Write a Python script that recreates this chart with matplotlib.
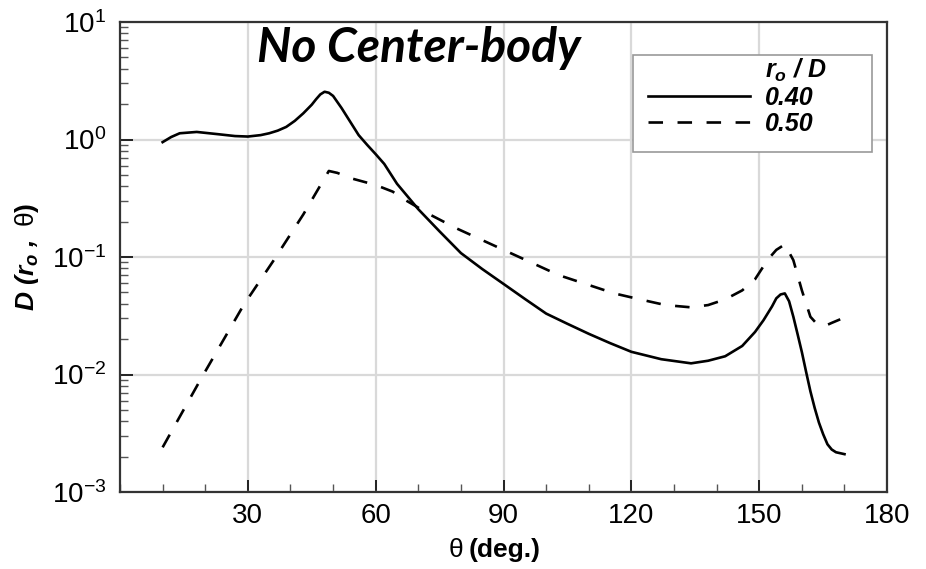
import matplotlib
matplotlib.use('Agg')
import matplotlib.pyplot as plt
from matplotlib.ticker import MultipleLocator, LogLocator, NullFormatter
from matplotlib.lines import Line2D
from matplotlib.patches import Rectangle

plt.rcParams['font.family'] = ['Liberation Sans', 'DejaVu Sans']
plt.rcParams['mathtext.fontset'] = 'custom'
plt.rcParams['mathtext.rm'] = 'Liberation Sans'
plt.rcParams['mathtext.it'] = 'Liberation Sans:italic'
plt.rcParams['mathtext.bf'] = 'Liberation Sans:bold'
plt.rcParams['mathtext.bfit'] = 'Liberation Sans:bold:italic'

# r_o/D = 0.40 (solid)
theta_40 = [10, 12, 14, 18, 23, 27, 30, 33, 35, 37, 39, 41, 43, 45, 46, 47, 48, 49, 50,
            52, 54, 56, 58, 60, 62, 65, 70, 75, 80, 85, 90, 95, 100, 105, 110, 115, 120,
            127, 134, 138, 142, 146, 149, 151, 153, 154, 155, 156, 157, 158, 159, 160,
            161, 162, 163, 164, 165, 166, 167, 168, 170]
d_40 = [0.95, 1.05, 1.13, 1.16, 1.11, 1.07, 1.06, 1.09, 1.13, 1.19, 1.28, 1.44, 1.67, 1.98,
        2.2, 2.42, 2.55, 2.5, 2.35, 1.85, 1.42, 1.09, 0.9, 0.75, 0.62, 0.42, 0.255, 0.165,
        0.108, 0.079, 0.059, 0.044, 0.033, 0.027, 0.0222, 0.0185, 0.0156, 0.0135, 0.01245,
        0.0131, 0.0143, 0.0175, 0.023, 0.029, 0.038, 0.0445, 0.048, 0.049, 0.042, 0.031,
        0.022, 0.0155, 0.0105, 0.0072, 0.0052, 0.0039, 0.0031, 0.00255, 0.0023, 0.00218, 0.0021]

# r_o/D = 0.50 (dashed)
theta_50 = [10, 19, 29, 36, 43, 49, 51, 54, 60, 64, 66, 73, 79, 90, 103, 116, 122, 128,
            134, 138, 142, 146, 149, 152, 154, 156, 158, 160, 162, 163.5, 165.5, 167, 169]
d_50 = [0.0024, 0.0092, 0.039, 0.093, 0.23, 0.54, 0.52, 0.47, 0.41, 0.36, 0.32, 0.227,
        0.175, 0.115, 0.070, 0.049, 0.0436, 0.039, 0.0373, 0.039, 0.0436, 0.052, 0.0646,
        0.095, 0.115, 0.128, 0.094, 0.052, 0.031, 0.027, 0.026, 0.0275, 0.0295]

x_ticks = [30, 60, 90, 120, 150, 180]
legend_title = r'$\mathbfit{r_o\ /\ D}$'
legend_labels = ['0.40', '0.50']

fig = plt.figure(figsize=(9.26, 5.69), dpi=100)
ax = fig.add_axes([0.1296, 0.1353, 0.8284, 0.826])

ax.plot(theta_40, d_40, color='black', lw=1.9, linestyle='-')
ax.plot(theta_50, d_50, color='black', lw=1.9, linestyle=(0, (5.5, 5.5)))

ax.set_yscale('log')
ax.set_xlim(0, 180)
ax.set_ylim(1e-3, 1e1)
ax.set_xticks(x_ticks)
ax.xaxis.set_minor_locator(MultipleLocator(10))
ax.yaxis.set_major_locator(LogLocator(base=10, numticks=10))
ax.yaxis.set_minor_locator(LogLocator(base=10, subs=range(2, 10), numticks=20))
ax.yaxis.set_minor_formatter(NullFormatter())

ax.grid(True, which='major', color='#d9d9d9', lw=1.6)
ax.set_axisbelow(True)
ax.tick_params(which='major', direction='in', length=9, width=1.4, labelsize=20,
               color='#222222', top=False, right=False)
ax.tick_params(axis='x', which='major', pad=8)
ax.tick_params(axis='y', which='major', pad=10)
ax.tick_params(which='minor', direction='in', length=5.5, width=1.0, color='#555555',
               top=False, right=False)
for sp in ax.spines.values():
    sp.set_color('#333333')
    sp.set_linewidth(1.6)

# x label: regular theta + bold "(deg.)"
fig.text(463 / 926, 1 - 557 / 569, 'θ', fontsize=19, ha='right', va='baseline')
fig.text(469 / 926, 1 - 557 / 569, '(deg.)', fontsize=19, fontweight='bold',
         ha='left', va='baseline')
ax.set_ylabel(r'$\mathbfit{D\ (r_o\ ,}\ \mathrm{θ}\mathbf{)}$', fontsize=19, labelpad=8)

fig.text(257 / 926, 1 - 62 / 569, 'No Center-body', fontfamily='Lato', fontweight='bold',
         fontstyle='italic', fontsize=34.5, ha='left', va='baseline')

# legend box
box = Rectangle((0.669, 0.723), 0.311, 0.207, transform=ax.transAxes, facecolor='white',
                edgecolor='#999999', lw=1.2, zorder=4)
ax.add_patch(box)

handles = [Line2D([], [], color='none'),
           Line2D([], [], color='black', lw=1.9, linestyle='-'),
           Line2D([], [], color='black', lw=1.9, linestyle=(0, (5.5, 5.5)))]
leg = ax.legend(handles, [legend_title] + legend_labels,
                loc='upper left', bbox_to_anchor=(0.688, 0.926),
                borderaxespad=0, borderpad=0, frameon=False,
                handlelength=4.1, handletextpad=0.6, labelspacing=0.08,
                prop={'weight': 'bold', 'style': 'italic', 'size': 18})
leg.set_zorder(5)

fig.savefig('out.png', dpi=100)
